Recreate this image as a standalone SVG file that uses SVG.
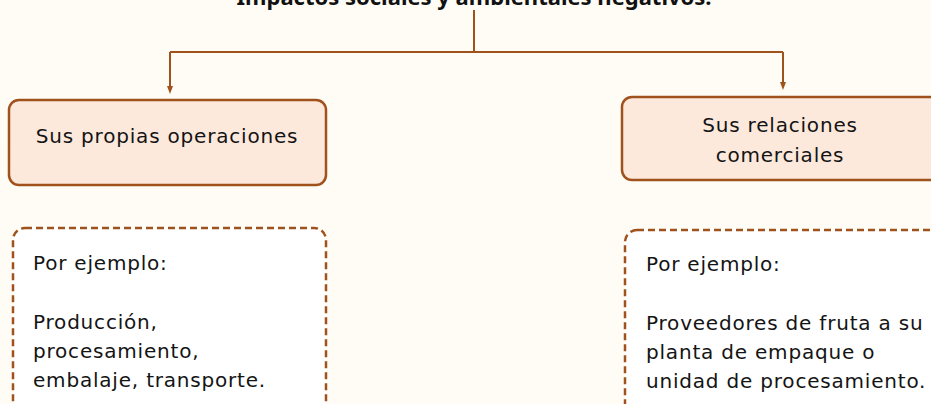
<svg xmlns="http://www.w3.org/2000/svg" width="931" height="404" viewBox="0 0 931 404">
<style>
.t{font-family:"DejaVu Sans","Noto Sans",sans-serif;font-size:20px;letter-spacing:0.8px;fill:#141414}
.title{font-family:"Noto Sans","Open Sans",sans-serif;font-size:22px;font-weight:bold;fill:#111}
.solid{fill:#fde9dc;stroke:#a0521c;stroke-width:2.5}
.dash{fill:#ffffff;stroke:#a0521c;stroke-width:2.5;stroke-dasharray:7 4}
.ln{fill:none;stroke:#a0521c;stroke-width:2}
</style>
<defs>
<marker id="ah" markerWidth="8" markerHeight="8" refX="4" refY="4" orient="auto" markerUnits="userSpaceOnUse">
<path d="M0,1 L8,4 L0,7 Z" fill="#a0521c"/>
</marker>
</defs>
<rect width="931" height="404" fill="#fffcf6"/>
<g id="title">
<text class="title" x="474" y="5" text-anchor="middle">Impactos sociales y ambientales negativos.</text>
</g>
<g id="connectors">
<path class="ln" d="M474,10 V52"/>
<path class="ln" d="M170,52 H783"/>
<path class="ln" d="M170,52 V90" marker-end="url(#ah)"/>
<path class="ln" d="M783,52 V86" marker-end="url(#ah)"/>
</g>
<g id="node-propias">
<rect class="solid" x="9" y="100" width="317" height="85" rx="10"/>
<text class="t" x="167" y="143" text-anchor="middle">Sus propias operaciones</text>
</g>
<g id="node-relaciones">
<rect class="solid" x="622" y="97" width="320" height="83" rx="10"/>
<text class="t" x="780" y="132" text-anchor="middle">Sus relaciones</text>
<text class="t" x="780" y="162" text-anchor="middle">comerciales</text>
</g>
<g id="node-ejemplo-propias">
<rect class="dash" x="13" y="228" width="313" height="200" rx="12"/>
<text class="t" x="33" y="270">Por ejemplo:</text>
<text class="t" x="33" y="329">Producción,</text>
<text class="t" x="33" y="358">procesamiento,</text>
<text class="t" x="33" y="387">embalaje, transporte.</text>
</g>
<g id="node-ejemplo-relaciones">
<rect class="dash" x="625" y="230" width="320" height="200" rx="12"/>
<text class="t" x="646" y="271">Por ejemplo:</text>
<text class="t" x="646" y="330">Proveedores de fruta a su</text>
<text class="t" x="646" y="359">planta de empaque o</text>
<text class="t" x="646" y="388">unidad de procesamiento.</text>
</g>
</svg>
